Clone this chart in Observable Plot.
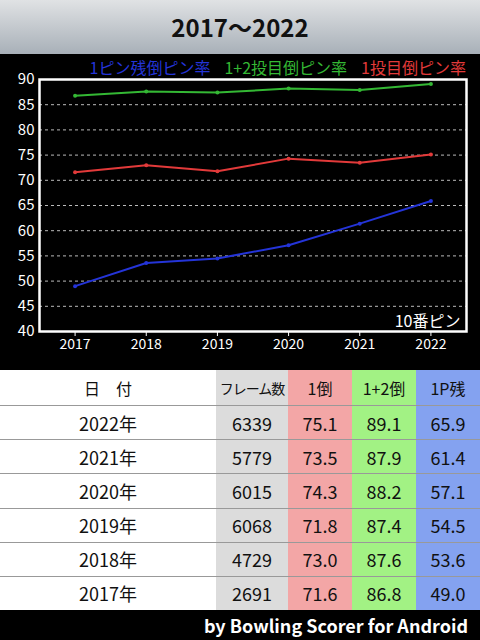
<!DOCTYPE html>
<html>
<head>
<meta charset="utf-8">
<script src="https://cdn.jsdelivr.net/npm/d3@7"></script>
<script src="https://cdn.jsdelivr.net/npm/@observablehq/plot@0.6"></script>
<style>
  html, body { margin: 0; padding: 0; background: #000; }
  body { width: 480px; height: 640px; overflow: hidden; font-family: "Noto Sans CJK JP", "Noto Sans", sans-serif; }
  #title { height: 54px; background: linear-gradient(#e0e2e4, #a8b0b8); color: #111; font-weight: bold; font-size: 24px; text-align: center; line-height: 54px; }
  #chart { background: #000; height: 316px; position: relative; }
  #chart svg { display: block; }
  #legend { position: absolute; top: 0; right: 14px; height: 24px; font-size: 16px; line-height: 26px; white-space: nowrap; z-index: 2; }
  #legend span { margin-left: 14px; }
  #table { background: #fff; height: 240px; display: grid; grid-template-columns: 216px 72px 64px 64px 64px; grid-template-rows: 35px repeat(6, 1fr); }
  #table div { display: flex; align-items: center; justify-content: center; color: #111; box-sizing: border-box; white-space: nowrap; }
  #table .hd { font-size: 16px; }
  #table .bd { font-size: 18px; border-top: 1.5px solid #999; }
  #footer { height: 30px; background: #000; color: #fff; font-weight: bold; font-size: 18px; text-align: right; padding-right: 12px; line-height: 30px; }
</style>
</head>
<body>
<div id="title"></div>
<div id="chart"><div id="legend"></div></div>
<div id="table"></div>
<div id="footer"></div>
<script>
const titleText = "2017～2022";
const footerText = "by Bowling Scorer for Android";
const pinLabel = "10番ピン";
const years = [2017, 2018, 2019, 2020, 2021, 2022];
const frames = [2691, 4729, 6068, 6015, 5779, 6339];
const first = [71.6, 73.0, 71.8, 74.3, 73.5, 75.1];      // 1倒
const firstSecond = [86.8, 87.6, 87.4, 88.2, 87.9, 89.1]; // 1+2倒
const onePin = [49.0, 53.6, 54.5, 57.1, 61.4, 65.9];     // 1P残
const seriesNames = ["1ピン残倒ピン率", "1+2投目倒ピン率", "1投目倒ピン率"];
const seriesColors = ["#2434d8", "#34b834", "#e23a3a"];
const headers = ["日　付", "フレーム数", "1倒", "1+2倒", "1P残"];
const headerColors = ["#ffffff", "#dcdcdc", "#f3a6a6", "#a2f284", "#84a2f0"];
const yTicks = [40, 45, 50, 55, 60, 65, 70, 75, 80, 85, 90];
const gridTicks = [45, 50, 55, 60, 65, 70, 75, 80, 85];

document.getElementById("title").textContent = titleText;
document.getElementById("footer").textContent = footerText;

const legend = document.getElementById("legend");
seriesNames.forEach((n, i) => {
  const s = document.createElement("span");
  s.textContent = n;
  s.style.color = seriesColors[i];
  legend.appendChild(s);
});

const seriesValues = [onePin, firstSecond, first];
const data = [];
seriesValues.forEach((vals, si) => vals.forEach((v, i) => data.push({year: years[i], value: v, series: seriesNames[si]})));

const plot = Plot.plot({
  width: 480,
  height: 316,
  marginTop: 25,
  marginBottom: 39,
  marginLeft: 39,
  marginRight: 14,
  style: {background: "#000", color: "#fff", fontSize: "14px", fontFamily: "Noto Sans CJK JP, Noto Sans, sans-serif"},
  x: {domain: [2016.5, 2022.5], label: null},
  y: {domain: [40, 90], label: null},
  color: {domain: seriesNames, range: seriesColors},
  marks: [
    Plot.gridY(gridTicks, {stroke: "#bbb", strokeOpacity: 1, strokeDasharray: "3,3", strokeWidth: 1}),
    Plot.axisX(years, {tickFormat: d => String(d), tickSize: 5, tickPadding: 3, stroke: "#fff", fill: "#fff", fontSize: 14, label: null}),
    Plot.axisY(yTicks, {tickSize: 0, tickPadding: 5, fill: "#fff", fontSize: 15, label: null}),
    Plot.line(data, {x: "year", y: "value", z: "series", stroke: "series", strokeWidth: 2}),
    Plot.dot(data, {x: "year", y: "value", fill: "series", r: 2}),
    Plot.text([pinLabel], {frameAnchor: "bottom-right", text: d => d, dx: -6, dy: -5, fill: "#fff", fontSize: 16}),
    Plot.frame({stroke: "#fff", strokeWidth: 2.5})
  ]
});
document.getElementById("chart").appendChild(plot);

const table = document.getElementById("table");
headers.forEach((h, i) => {
  const c = document.createElement("div");
  c.className = "hd";
  c.textContent = h;
  c.style.background = headerColors[i];
  if (i === 1) { c.style.fontSize = "14px"; c.style.letterSpacing = "-1px"; }
  table.appendChild(c);
});
for (let i = years.length - 1; i >= 0; i--) {
  const row = [years[i] + "年", String(frames[i]), first[i].toFixed(1), firstSecond[i].toFixed(1), onePin[i].toFixed(1)];
  row.forEach((t, j) => {
    const c = document.createElement("div");
    c.className = "bd";
    c.textContent = t;
    c.style.background = headerColors[j];
    table.appendChild(c);
  });
}
</script>
</body>
</html>
